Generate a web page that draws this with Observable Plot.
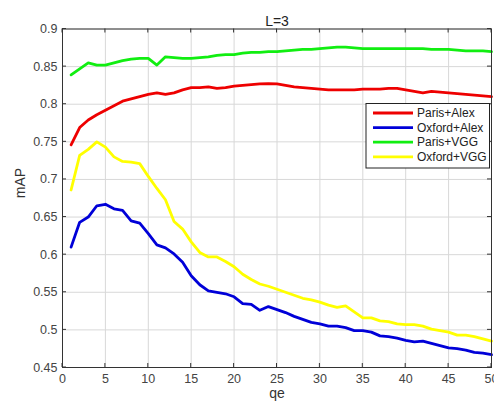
<!DOCTYPE html>
<html>
<head>
<meta charset="utf-8">
<script src="https://cdn.jsdelivr.net/npm/d3@7"></script>
<script src="https://cdn.jsdelivr.net/npm/@observablehq/plot@0.6"></script>
<style>
  html, body { margin: 0; padding: 0; background: #fff; overflow: hidden; }
</style>
</head>
<body>
<div id="chart"></div>
<script>
const qe = d3.range(1, 51);
const parisAlex = [0.746,0.769,0.779,0.786,0.792,0.798,0.804,0.807,0.810,0.813,
  0.815,0.813,0.815,0.819,0.822,0.822,0.823,0.821,0.822,0.824,
  0.825,0.826,0.827,0.8275,0.827,0.825,0.823,0.822,0.821,0.820,
  0.819,0.819,0.819,0.819,0.820,0.820,0.820,0.821,0.821,0.819,
  0.817,0.815,0.817,0.816,0.815,0.814,0.813,0.812,0.811,0.810];
const oxfordAlex = [0.610,0.643,0.650,0.665,0.667,0.661,0.659,0.645,0.642,0.628,
  0.613,0.609,0.601,0.590,0.572,0.560,0.552,0.550,0.548,0.544,
  0.535,0.534,0.526,0.531,0.527,0.523,0.518,0.514,0.510,0.508,
  0.505,0.505,0.503,0.499,0.499,0.497,0.492,0.491,0.489,0.486,
  0.484,0.485,0.482,0.479,0.476,0.475,0.473,0.470,0.469,0.467];
const parisVGG = [0.839,0.847,0.855,0.852,0.852,0.855,0.858,0.860,0.861,0.861,
  0.852,0.863,0.862,0.861,0.861,0.862,0.863,0.865,0.866,0.866,
  0.868,0.869,0.869,0.870,0.870,0.871,0.872,0.873,0.873,0.874,
  0.875,0.876,0.876,0.875,0.874,0.874,0.874,0.874,0.874,0.874,
  0.874,0.874,0.873,0.873,0.873,0.872,0.871,0.871,0.871,0.870];
const oxfordVGG = [0.686,0.732,0.740,0.750,0.743,0.730,0.724,0.723,0.721,0.704,
  0.688,0.673,0.644,0.634,0.617,0.603,0.597,0.597,0.591,0.584,
  0.574,0.567,0.561,0.558,0.554,0.550,0.546,0.542,0.540,0.537,
  0.533,0.530,0.532,0.524,0.516,0.516,0.512,0.511,0.508,0.507,
  0.507,0.505,0.501,0.499,0.497,0.493,0.493,0.491,0.488,0.485];

const seriesNames = ["Paris+Alex", "Oxford+Alex", "Paris+VGG", "Oxford+VGG"];
const seriesColors = ["#ee0000", "#0000d8", "#11ee11", "#ffff00"];
const seriesValues = [parisAlex, oxfordAlex, parisVGG, oxfordVGG];
const xTicks = [0, 5, 10, 15, 20, 25, 30, 35, 40, 45, 50];
const yTicks = [0.45, 0.5, 0.55, 0.6, 0.65, 0.7, 0.75, 0.8, 0.85, 0.9];
const titleText = "L=3";
const xLabel = "qe";
const yLabel = "mAP";

const table = seriesNames.flatMap((name, s) =>
  qe.map((q, i) => ({qe: q, mAP: seriesValues[s][i], series: name})));

const fmt = d => String(+d.toFixed(2));

const plot = Plot.plot({
  width: 494,
  height: 405,
  marginLeft: 62,
  marginRight: 3,
  marginTop: 28.5,
  marginBottom: 38,
  style: {fontFamily: "'Liberation Sans', Arial, sans-serif", fontSize: "12.5px", background: "#fff", color: "#444", overflow: "hidden"},
  x: {domain: [0, 50], label: null},
  y: {domain: [0.45, 0.9], label: null},
  color: {domain: seriesNames, range: seriesColors},
  marks: [
    Plot.gridX(xTicks, {stroke: "#d8d8d8", strokeOpacity: 1}),
    Plot.gridY(yTicks, {stroke: "#d8d8d8", strokeOpacity: 1}),
    Plot.line(table, {x: "qe", y: "mAP", z: "series", stroke: "series", strokeWidth: 2.8, strokeLinejoin: "round"}),
    Plot.frame({stroke: "#333", strokeWidth: 1}),
    Plot.axisX(xTicks, {tickSize: 0, tickPadding: 7, tickFormat: fmt, fill: "#444"}),
    Plot.axisY(yTicks, {tickSize: 0, tickPadding: 5, tickFormat: fmt, fill: "#444"}),
    Plot.text([titleText], {frameAnchor: "top", dy: -13, fontSize: 14, fill: "#222"}),
    Plot.text([xLabel], {frameAnchor: "bottom", dy: 30.5, fontSize: 14, fill: "#333"}),
    Plot.text([yLabel], {frameAnchor: "left", dx: -42, rotate: -90, fontSize: 14, fill: "#333"})
  ]
});

// inward ticks on all four sides (MATLAB style)
const svg = d3.select(plot);
const sx = plot.scale("x"), sy = plot.scale("y");
const x0 = sx.apply(0), x1 = sx.apply(50), y0 = sy.apply(0.45), y1 = sy.apply(0.9);
const tk = svg.append("g").attr("stroke", "#333").attr("stroke-width", 1);
xTicks.forEach(t => {
  const px = sx.apply(t);
  tk.append("line").attr("x1", px).attr("x2", px).attr("y1", y0).attr("y2", y0 - 4);
  tk.append("line").attr("x1", px).attr("x2", px).attr("y1", y1).attr("y2", y1 + 4);
});
yTicks.forEach(t => {
  const py = sy.apply(t);
  tk.append("line").attr("y1", py).attr("y2", py).attr("x1", x0).attr("x2", x0 + 4);
  tk.append("line").attr("y1", py).attr("y2", py).attr("x1", x1).attr("x2", x1 - 4);
});

// legend box
const lg = svg.append("g")
  .attr("font-family", "'Liberation Sans', Arial, sans-serif")
  .attr("font-size", 12)
  .attr("text-anchor", "start");
lg.append("rect").attr("x", 366).attr("y", 103.5).attr("width", 123.5).attr("height", 64.5)
  .attr("fill", "#fff").attr("stroke", "#222").attr("stroke-width", 1);
seriesNames.forEach((name, i) => {
  const cy = 113 + i * 14.6;
  lg.append("line").attr("x1", 373).attr("x2", 413).attr("y1", cy).attr("y2", cy)
    .attr("stroke", seriesColors[i]).attr("stroke-width", 2.8);
  lg.append("text").attr("x", 417).attr("y", cy).attr("dy", "0.35em")
    .attr("text-anchor", "start").attr("fill", "#222").text(name);
});

document.getElementById("chart").appendChild(plot);
</script>
</body>
</html>
